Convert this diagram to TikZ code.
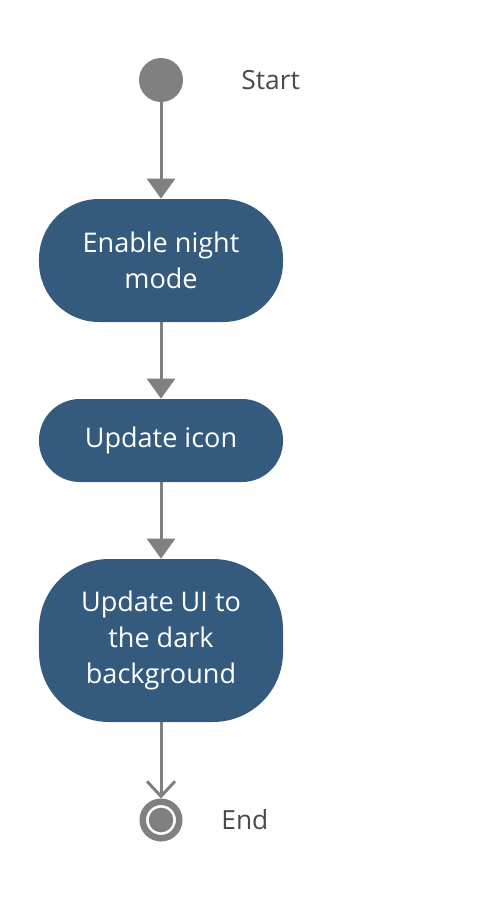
\documentclass[tikz,border=0pt]{standalone}
\usepackage{fontspec}
\setmainfont{Open Sans}
\usetikzlibrary{arrows.meta, positioning}
\definecolor{nightblue}{HTML}{345A7D}
\definecolor{flowgray}{HTML}{808080}
\definecolor{labeldark}{HTML}{4A4A4A}
\tikzset{
  flow/.style={-{Triangle[width=5.6mm, length=4mm]}, line width=0.6mm, flowgray},
  endflow/.style={-{Straight Barb[width=5.6mm, length=3mm]}, line width=0.6mm, flowgray},
  action/.style={rectangle, rounded corners=#1, fill=nightblue, text=white, align=center, minimum width=48.8mm, inner sep=0pt, font=\fontsize{15.4}{20.5}\selectfont},
  startdot/.style={circle, fill=flowgray, minimum size=8.8mm, inner sep=0pt},
  enddot/.style={circle, draw=flowgray, line width=1.3mm, fill=white, minimum size=7.3mm, inner sep=0pt,
    path picture={\fill[flowgray] (path picture bounding box.center) circle (2.46mm);}},
  tag/.style={anchor=west, inner sep=0pt, text=labeldark, font=\fontsize{15}{18}\selectfont},
}

\begin{document}
\begin{tikzpicture}[x=0.2mm, y=-0.2mm]
    \useasboundingbox (0,0) rectangle (500,900);
    \node[startdot] (start) at (161,80) {};
    \node[tag] (startlabel) at (241,80) {Start};
    \node[action=12mm, minimum height=24.6mm] (enable) at (161,260.5) {Enable night\\mode};
    \node[action=8.2mm, minimum height=16.6mm] (icon) at (161,440.5) {Update icon};
    \node[action=14mm, minimum height=32.6mm] (darkui) at (161,640.5) {Update UI to\\the dark\\background};
    \node[enddot] (finish) at (161,820) {};
    \node[tag] (endlabel) at (221,820) {End};
    \draw[flow] (start) -- (enable);
    \draw[flow] (enable) -- (icon);
    \draw[flow] (icon) -- (darkui);
    \draw[endflow] (darkui) -- (finish);
  \end{tikzpicture}
\end{document}
